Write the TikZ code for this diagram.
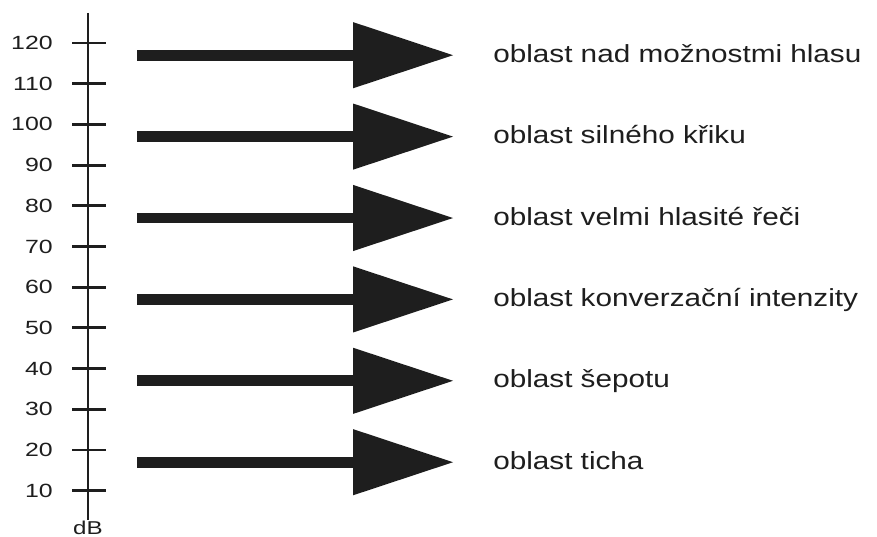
\documentclass[tikz,border=0pt]{standalone}
\usepackage{fontspec}
\usepackage{graphicx}
\setmainfont{Liberation Sans}
\usetikzlibrary{arrows.meta}
\definecolor{ScanInk}{HTML}{1E1E1E}

\begin{document}
\begin{tikzpicture}[x=0.025cm, y=-0.025cm]
    \tikzstyle{axis} = [draw=ScanInk, line width=2.1pt]
    \tikzstyle{tick} = [draw=ScanInk, line width=2pt]
    \tikzstyle{ticklabel} = [anchor=east, inner sep=0pt, text=ScanInk, font=\fontsize{13.6}{14}\selectfont]
    \tikzstyle{region} = [anchor=base west, inner sep=0pt, text=ScanInk, font=\fontsize{17.6}{20}\selectfont]
    \tikzstyle{arrow} = [draw=ScanInk, line width=7.8pt, -{Triangle[width=47pt, length=71pt, line width=0pt]}, fill=ScanInk]

    % page frame
    \fill[white] (0,0) rectangle (877,537);
    \useasboundingbox (0,0) rectangle (877,537);

    % dB axis
    \coordinate (top) at (88,13);
    \coordinate (bot) at (88,520);
    \draw [axis] (top) -- (bot);
    \node (unit) [anchor=north, inner sep=0pt, text=ScanInk, font=\fontsize{13.2}{14}\selectfont] at (88,521) {\scalebox{1.3}[1]{dB}};

    \foreach \v in {10,20,...,120} {
        \pgfmathsetmacro\yy{43+(120-\v)*4.07}
        \coordinate (tl\v) at (72,\yy);
        \coordinate (tr\v) at (106,\yy);
        \draw [tick] (tl\v) -- (tr\v);
        \node (lab\v) [ticklabel] at (53,\yy) {\scalebox{1.3}[1]{\v}};
    }

    % regions
    \foreach \v/\txt [count=\i] in {117/oblast nad možnostmi hlasu, 97/oblast silného křiku, 77/oblast velmi hlasité řeči, 57/oblast konverzační intenzity, 37/oblast šepotu, 17/oblast ticha} {
        \pgfmathsetmacro\yy{43+(120-\v)*4.07}
        \coordinate (s\i) at (137,\yy);
        \coordinate (e\i) at (453,\yy);
        \draw [arrow] (s\i) -- (e\i);
        \node (r\i) [region] at (493,\yy+7) {\scalebox{1.2}[1]{\txt}};
    }

\end{tikzpicture}
\end{document}
